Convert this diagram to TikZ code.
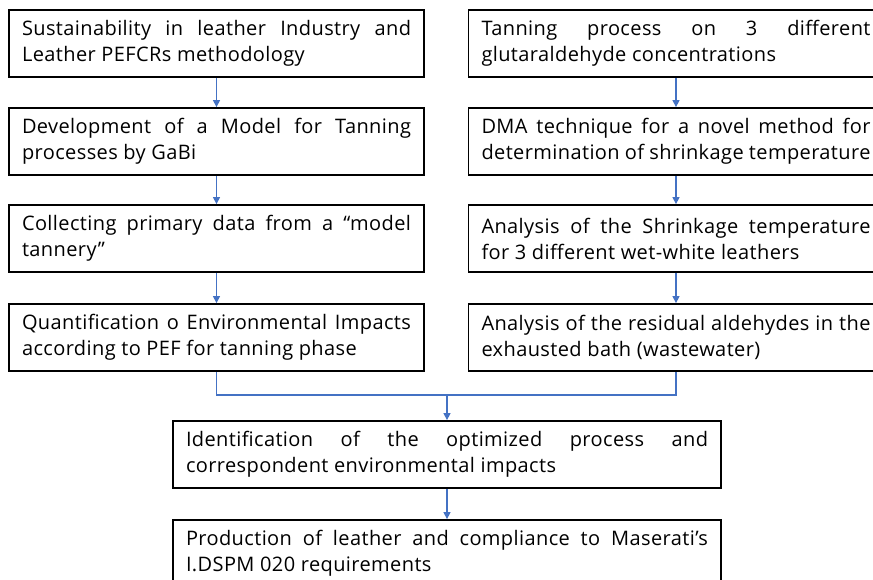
\documentclass[tikz,border=0pt]{standalone}
\usepackage{fontspec}
\setmainfont{Open Sans}[LetterSpace=2.0]
\usetikzlibrary{arrows.meta}
\definecolor{flowblue}{HTML}{4472C4}

\begin{document}
\begin{tikzpicture}[x=1pt, y=-1pt]
  % Rahmen.
  \useasboundingbox (0,0) rectangle (873,580);
  \clip (0,0) rectangle (873,580);

  % Stile.
  \tikzstyle{box}=[draw, line width=1.8pt, text width=389pt, inner xsep=13pt, inner ysep=0pt, minimum height=67pt, align=justify, font=\fontsize{20}{26}\selectfont]
  \tikzstyle{wide}=[text width=522pt]
  \tikzstyle{flow}=[draw=flowblue, line width=1.3pt]
  \tikzstyle{flowarrow}=[flow, -{Triangle[width=7pt, length=7pt]}]

  % Linke Spalte.
  \node[box] (l1) at (216.5, 43.5) {Sustainability in leather Industry and\linebreak Leather PEFCRs methodology};
  \node[box] (l2) at (216.5, 141.5) {Development of a Model for Tanning\linebreak processes by GaBi};
  \node[box] (l3) at (216.5, 238.5) {Collecting primary data from a “model\linebreak tannery”};
  \node[box] (l4) at (216.5, 337.5) {Quantification o Environmental Impacts\linebreak according to PEF for tanning phase};

  % Rechte Spalte.
  \node[box] (r1) at (676, 43.5) {Tanning process on 3 different\linebreak glutaraldehyde concentrations};
  \node[box] (r2) at (676, 141.5) {DMA technique for a novel method for\linebreak determination of shrinkage temperature};
  \node[box] (r3) at (676, 238.5) {Analysis of the Shrinkage temperature\linebreak for 3 different wet-white leathers};
  \node[box] (r4) at (676, 337.5) {Analysis of the residual aldehydes in the\linebreak exhausted bath (wastewater)};

  % Mitte.
  \node[box, wide] (m1) at (447, 454.5) {Identification of the optimized process and\linebreak correspondent environmental impacts};
  \node[box, wide] (m2) at (447, 553.5) {Production of leather and compliance to Maserati’s\linebreak I.DSPM 020 requirements};

  % Pfeile.
  \draw[flowarrow] (l1) -- (l2);
  \draw[flowarrow] (l2) -- (l3);
  \draw[flowarrow] (l3) -- (l4);
  \draw[flowarrow] (r1) -- (r2);
  \draw[flowarrow] (r2) -- (r3);
  \draw[flowarrow] (r3) -- (r4);

  % Zusammenfuehrung.
  \coordinate (join) at (447, 395);
  \draw[flow] (l4.south) |- (join) -| (r4.south);
  \draw[flowarrow] (join) -- (m1);
  \draw[flowarrow] (m1) -- (m2);
\end{tikzpicture}
\end{document}
